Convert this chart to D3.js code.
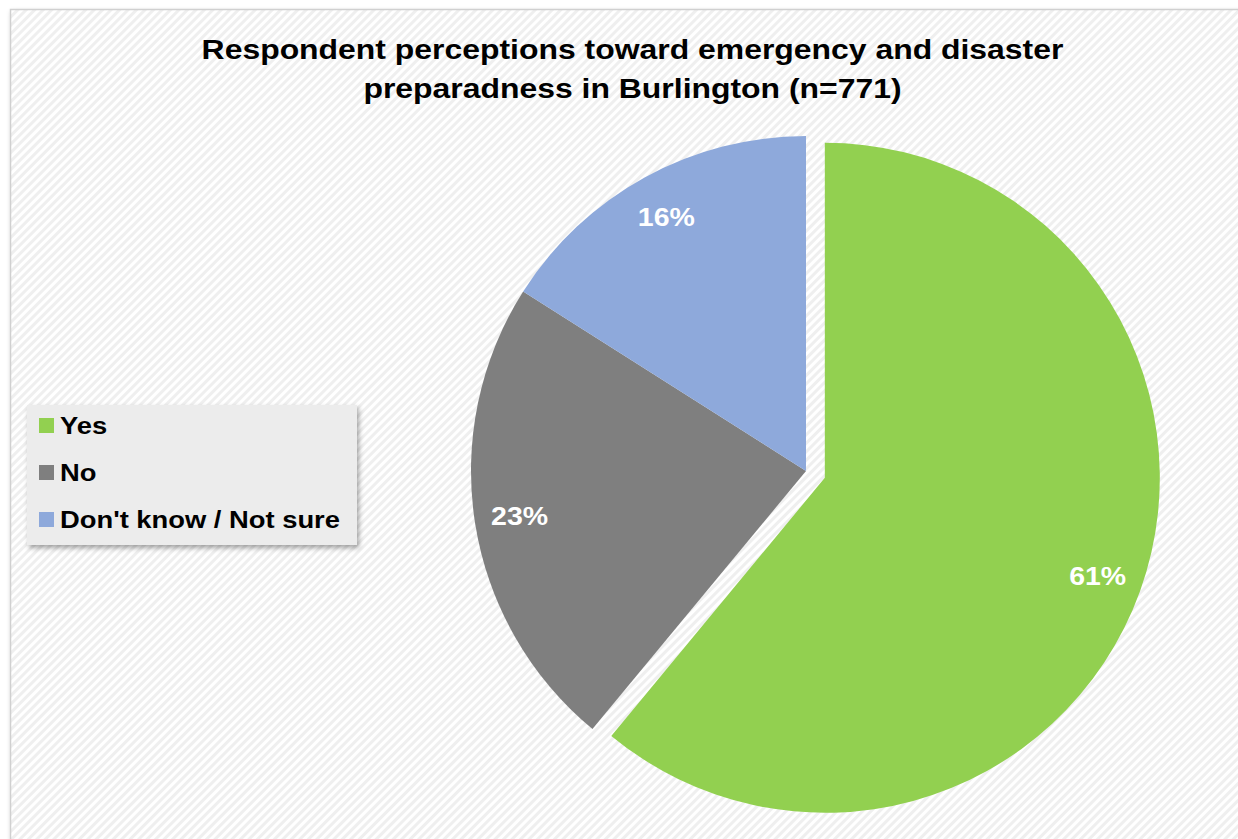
<!DOCTYPE html>
<html>
<head>
<meta charset="utf-8">
<script src="https://cdn.jsdelivr.net/npm/d3@7"></script>
<style>
  body { margin: 0; background: #fff; }
  svg { display: block; }
</style>
</head>
<body>
<div id="chart"></div>
<script>
const categories = ['Yes', 'No', "Don't know / Not sure"];
const values = [61, 23, 16];
const colors = ['#92D050', '#7F7F7F', '#8EA9DB'];
const titleLines = ['Respondent perceptions toward emergency and disaster', 'preparadness in Burlington (n=771)'];

const width = 1238;
const height = 839;
const stretch = 1.14; // text in the original is a little wider than Arial

const svg = d3.select('#chart').append('svg')
    .attr('width', width)
    .attr('height', height);

const defs = svg.append('defs');

const stripes = defs.append('pattern')
    .attr('id', 'stripes')
    .attr('patternUnits', 'userSpaceOnUse')
    .attr('width', 6)
    .attr('height', 6)
    .attr('patternTransform', 'rotate(45)');
stripes.append('rect').attr('width', 6).attr('height', 6).attr('fill', '#ffffff');
stripes.append('rect').attr('width', 3).attr('height', 6).attr('fill', '#efefef');

const shadow = defs.append('filter')
    .attr('id', 'shadow')
    .attr('x', '-10%').attr('y', '-10%')
    .attr('width', '120%').attr('height', '130%');
shadow.append('feDropShadow')
    .attr('dx', 2).attr('dy', 3)
    .attr('stdDeviation', 2.5)
    .attr('flood-color', '#000')
    .attr('flood-opacity', 0.35);

// chart frame
svg.append('rect')
    .attr('x', 10.5)
    .attr('y', 9.5)
    .attr('width', width - 8)
    .attr('height', height - 8)
    .attr('fill', 'url(#stripes)')
    .attr('stroke', '#d0d0d0')
    .attr('stroke-width', 1.5)
    .attr('filter', 'url(#shadow)');

// title
svg.append('text')
    .attr('transform', `translate(632.5, 59) scale(${stretch}, 1)`)
    .attr('text-anchor', 'middle')
    .style('font-family', 'Liberation Sans, Arial, sans-serif')
    .style('font-weight', 'bold')
    .style('font-size', '28px')
    .style('fill', '#000')
    .selectAll('tspan')
    .data(titleLines)
    .enter()
    .append('tspan')
    .attr('x', 0)
    .attr('dy', (d, i) => i === 0 ? 0 : 39)
    .text(d => d);

// pie
const center = { x: 806, y: 471 };
const radius = 335;
const explode = 20;

const pie = d3.pie().sort(null).value(d => d);
const arcs = pie(values);

const arc = d3.arc().innerRadius(0).outerRadius(radius);
const labelArc = d3.arc().innerRadius(290).outerRadius(290);

const offset = (d, i) => {
    if (i !== 0) return [0, 0];
    const a = (d.startAngle + d.endAngle) / 2;
    return [Math.sin(a) * explode, -Math.cos(a) * explode];
};

const pieG = svg.append('g')
    .attr('transform', `translate(${center.x}, ${center.y})`);

const slices = pieG.selectAll('g.slice')
    .data(arcs)
    .enter()
    .append('g')
    .attr('class', 'slice')
    .attr('transform', (d, i) => {
        const o = offset(d, i);
        return `translate(${o[0]}, ${o[1]})`;
    });

slices.append('path')
    .attr('d', arc)
    .attr('fill', (d, i) => colors[i]);

slices.append('text')
    .attr('transform', d => `translate(${labelArc.centroid(d)}) scale(${stretch}, 1)`)
    .attr('text-anchor', 'middle')
    .attr('dy', '0.36em')
    .style('font-family', 'Liberation Sans, Arial, sans-serif')
    .style('font-weight', 'bold')
    .style('font-size', '25px')
    .style('fill', '#fff')
    .text(d => `${d.value}%`);

// legend
const legend = svg.append('g')
    .attr('transform', 'translate(27, 405)');

legend.append('rect')
    .attr('width', 330)
    .attr('height', 140)
    .attr('fill', '#ececec')
    .attr('filter', 'url(#shadow)');

const items = legend.selectAll('g.item')
    .data(categories)
    .enter()
    .append('g')
    .attr('class', 'item')
    .attr('transform', (d, i) => `translate(12, ${13 + i * 47})`);

items.append('rect')
    .attr('y', 0)
    .attr('width', 15)
    .attr('height', 15)
    .attr('fill', (d, i) => colors[i]);

items.append('text')
    .attr('transform', `translate(21, 16) scale(${stretch}, 1)`)
    .style('font-family', 'Liberation Sans, Arial, sans-serif')
    .style('font-weight', 'bold')
    .style('font-size', '24px')
    .style('fill', '#000')
    .text(d => d);
</script>
</body>
</html>
